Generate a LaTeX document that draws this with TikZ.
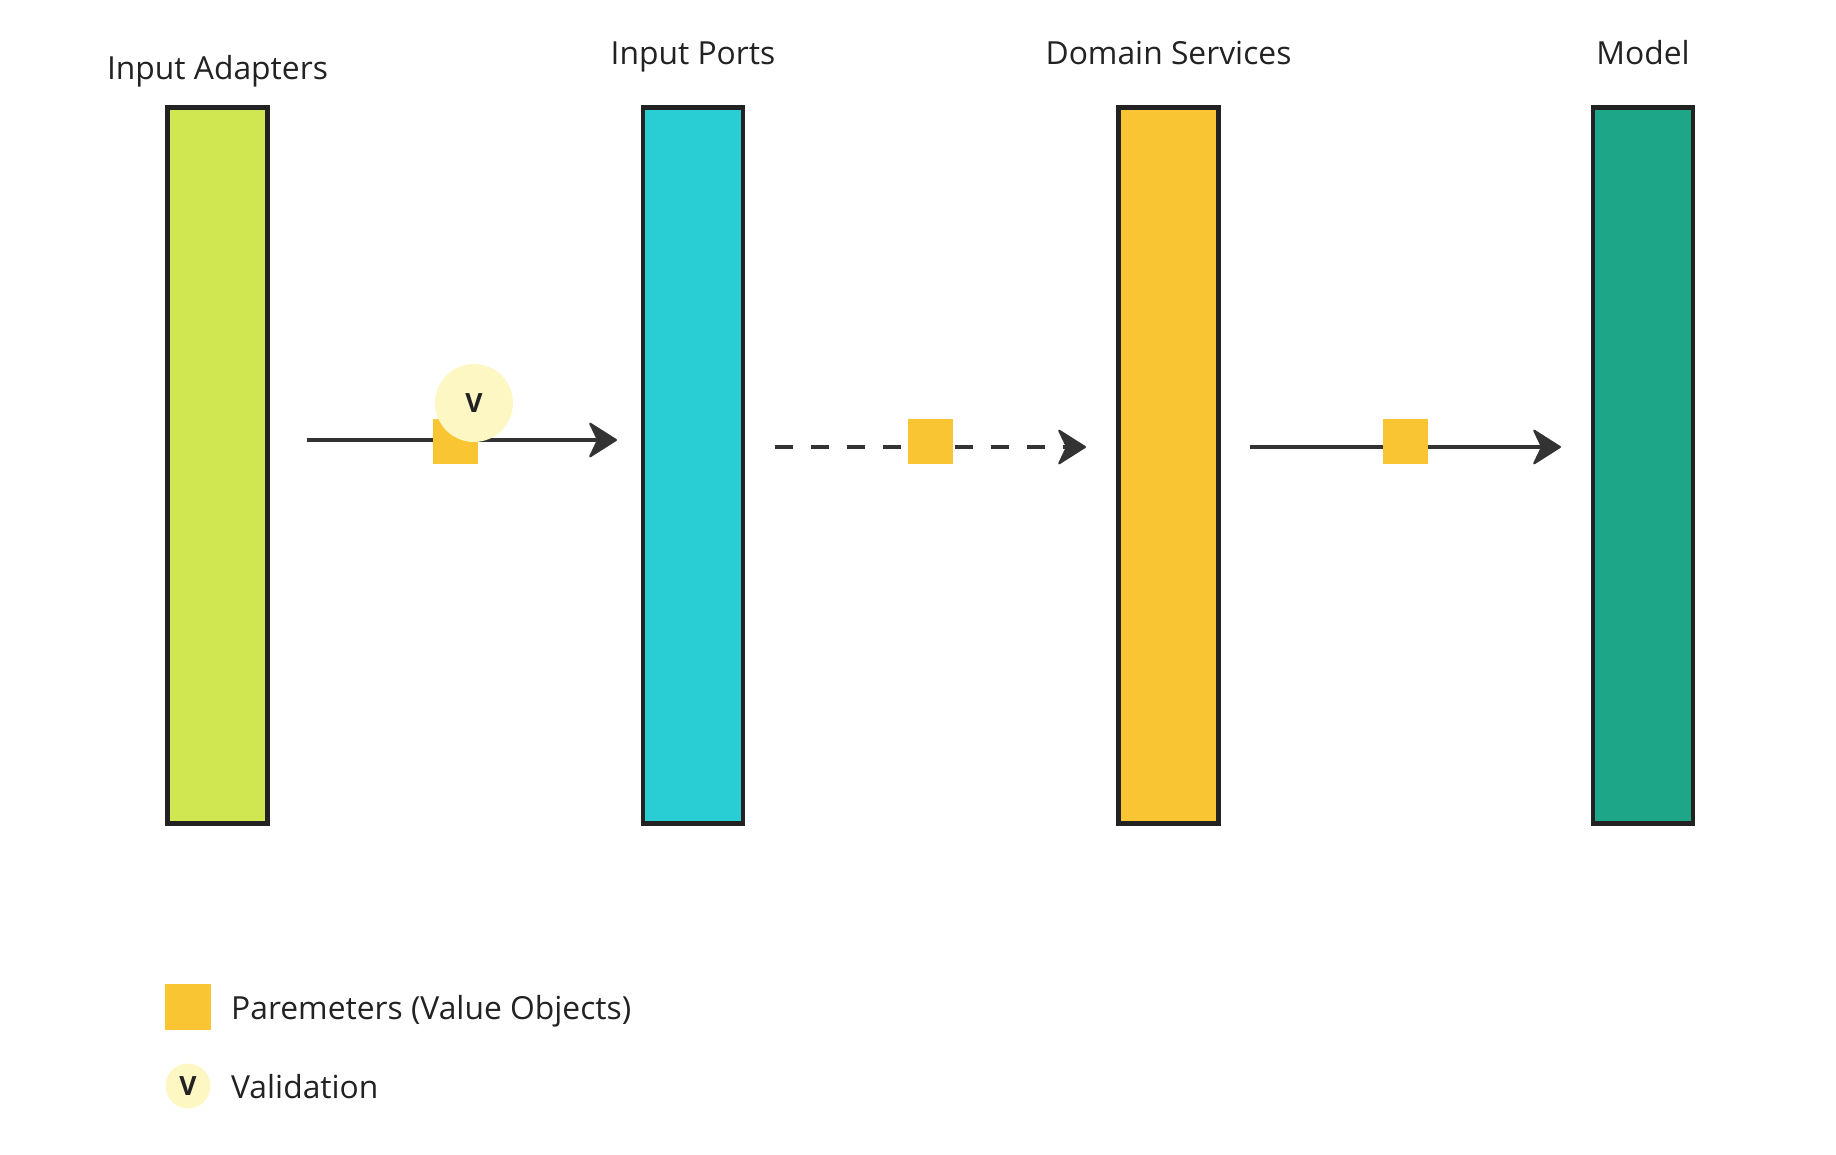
\documentclass[tikz,border=0pt]{standalone}
\usepackage{fontspec}
\setmainfont{Open Sans}
\usetikzlibrary{arrows.meta,positioning}

\definecolor{barlime}{HTML}{D1E751}
\definecolor{barcyan}{HTML}{29CDD4}
\definecolor{paramyellow}{HTML}{F9C532}
\definecolor{bargreen}{HTML}{1DA687}
\definecolor{validfill}{HTML}{FDF7C4}
\definecolor{inkdark}{HTML}{222222}
\definecolor{linedark}{HTML}{333333}

\tikzset{
  bar/.style={draw=inkdark, line width=4.7pt, rectangle, minimum width=100pt,
    minimum height=716pt, inner sep=0pt, outer sep=0pt},
  lbl/.style={anchor=base, inner sep=0pt, text=inkdark, font=\fontsize{31.8}{38}\selectfont},
  flow/.style={draw=linedark, line width=4pt,
    -{Stealth[length=30pt, width=38pt, inset=9pt, round, line width=2pt]}},
  param/.style={fill=paramyellow, minimum size=45pt, inner sep=0pt},
  valid/.style={circle, fill=validfill, inner sep=0pt, text=inkdark,
    font=\fontsize{26.5}{30}\bfseries\selectfont},
  legtext/.style={anchor=base west, inner sep=0pt, text=inkdark,
    font=\fontsize{31.8}{38}\selectfont}
}

\begin{document}
\begin{tikzpicture}[x=1pt, y=-1pt]
  \useasboundingbox (0,0) rectangle (1836,1154);

  % layers
  \node[bar, fill=barlime] (ia) at (217.5,465.5) {};
  \node[bar, fill=barcyan] (ip) at (693,465.5) {};
  \node[bar, fill=paramyellow] (ds) at (1168.5,465.5) {};
  \node[bar, fill=bargreen] (mo) at (1643,465.5) {};

  % titles
  \node[lbl] (ia-lbl) at (217.5,79) {Input Adapters};
  \node[lbl] (ip-lbl) at (693,64) {Input Ports};
  \node[lbl] (ds-lbl) at (1168.5,64) {Domain Services};
  \node[lbl] (mo-lbl) at (1643,64) {Model};

  % calls between layers
  \draw[flow, shorten <=39.5pt, shorten >=26pt] (ia.east |- 0,440) -- (ip.west |- 0,440);
  \draw[flow, dash pattern=on 18pt off 18pt, shorten <=32pt, shorten >=32.5pt] (ip.east |- 0,447) -- (ds.west |- 0,447);
  \draw[flow, shorten <=31.5pt, shorten >=32pt] (ds.east |- 0,447) -- (mo.west |- 0,447);

  % parameters on the calls
  \node[param] (p1) at (455.5,441.5) {};
  \node[param] (p2) at (930.5,441.5) {};
  \node[param] (p3) at (1405.5,441.5) {};
  \node[valid, minimum size=78pt] (v1) at (474,403) {V};

  % legend
  \node[param, minimum size=46pt] (leg-p) at (188,1006.5) {};
  \node[legtext] (leg-p-txt) at (231,1019) {Paremeters (Value Objects)};
  \node[valid, minimum size=45pt] (leg-v) at (188,1086) {V};
  \node[legtext] (leg-v-txt) at (231,1098) {Validation};
\end{tikzpicture}
\end{document}
